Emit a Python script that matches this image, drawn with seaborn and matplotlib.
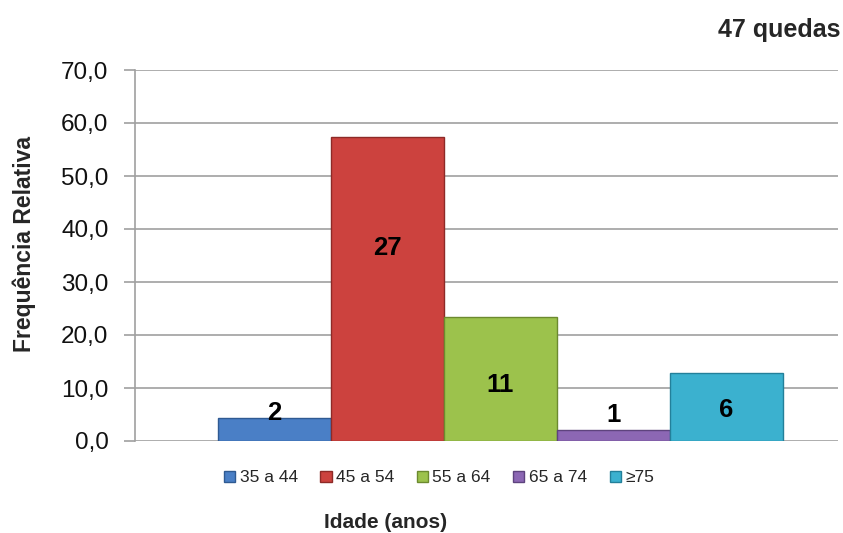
import matplotlib
matplotlib.use("Agg")
import matplotlib.pyplot as plt
import seaborn as sns
import numpy as np
import pandas as pd
from matplotlib.patches import Patch
from matplotlib.ticker import FuncFormatter, MultipleLocator

# ---- data ----
categories = ["35 a 44", "45 a 54", "55 a 64", "65 a 74", "\u226575"]
counts = [2, 27, 11, 1, 6]
total_label = "47 quedas"
rel_freq = [4.26, 57.45, 23.40, 2.13, 12.77]
colors = ["#4A7FC6", "#CC423E", "#9CC24C", "#8C67B4", "#3BB1CF"]

# layout: label y-positions (data units)
label_y = [5.3, 36.4, 10.6, 5.0, 5.8]

sns.set_style("white")
plt.rcParams['font.family'] = ['Liberation Sans', 'DejaVu Sans']

fig = plt.figure(figsize=(8.43, 5.33), dpi=100)
ax = fig.add_axes([135/843, 1-441/533, (838-135)/843, (441-70)/533])

df = pd.DataFrame({"cat": categories, "val": rel_freq})
sns.barplot(data=df, x="cat", y="val", hue="cat", palette=colors, width=1.0,
            dodge=False, legend=False, ax=ax, saturation=1, zorder=3)

edge = ["#2F5A92", "#8E2A27", "#6C8A2F", "#5E437E", "#23809A"]
for p, ec in zip(ax.patches, edge):
    p.set_edgecolor(ec)
    p.set_linewidth(1.0)

for i, (c, y) in enumerate(zip(counts, label_y)):
    ax.text(i, y, str(c), ha="center", va="center", fontsize=18.5,
            fontweight="bold", color="black", zorder=5)

ax.set_xlim(-1.235, 4.99)
ax.set_ylim(0, 70)
ax.yaxis.set_major_locator(MultipleLocator(10))
ax.yaxis.set_major_formatter(FuncFormatter(lambda v, p: f"{v:.1f}".replace(".", ",")))
ax.set_xticks([])
ax.set_xlabel("")
ax.set_ylabel("")
ax.grid(axis="y", color="#A0A0A0", linewidth=1.2, zorder=0)
ax.set_axisbelow(True)
for s in ["top", "right", "bottom"]:
    ax.spines[s].set_visible(False)
ax.spines["left"].set_color("#A0A0A0")
ax.spines["left"].set_linewidth(1.2)
ax.tick_params(axis="y", direction="out", length=8, width=1.2, color="#A0A0A0",
               pad=11, labelsize=17.5, labelcolor="#111111", left=True)

handles = [Patch(facecolor=c, edgecolor=e, label=l) for c, e, l in zip(colors, edge, categories)]
fig.legend(handles=handles, loc="center", bbox_to_anchor=(439/843, 1-478/533), ncol=5,
           frameon=False, fontsize=12.5, handlelength=0.65, handleheight=0.65,
           handletextpad=0.25, columnspacing=1.3)

fig.text(386/843, 1-522/533, "Idade (anos)", ha="center", va="center",
         fontsize=15, fontweight="bold")
fig.text(24/843, 1-244/533, "Frequência Relativa", ha="center", va="center",
         rotation=90, fontsize=16.5, fontweight="bold")
fig.text(840/843, 1-30/533, total_label, ha="right", va="center",
         fontsize=18, fontweight="bold")

fig.savefig("out.png", dpi=100)
